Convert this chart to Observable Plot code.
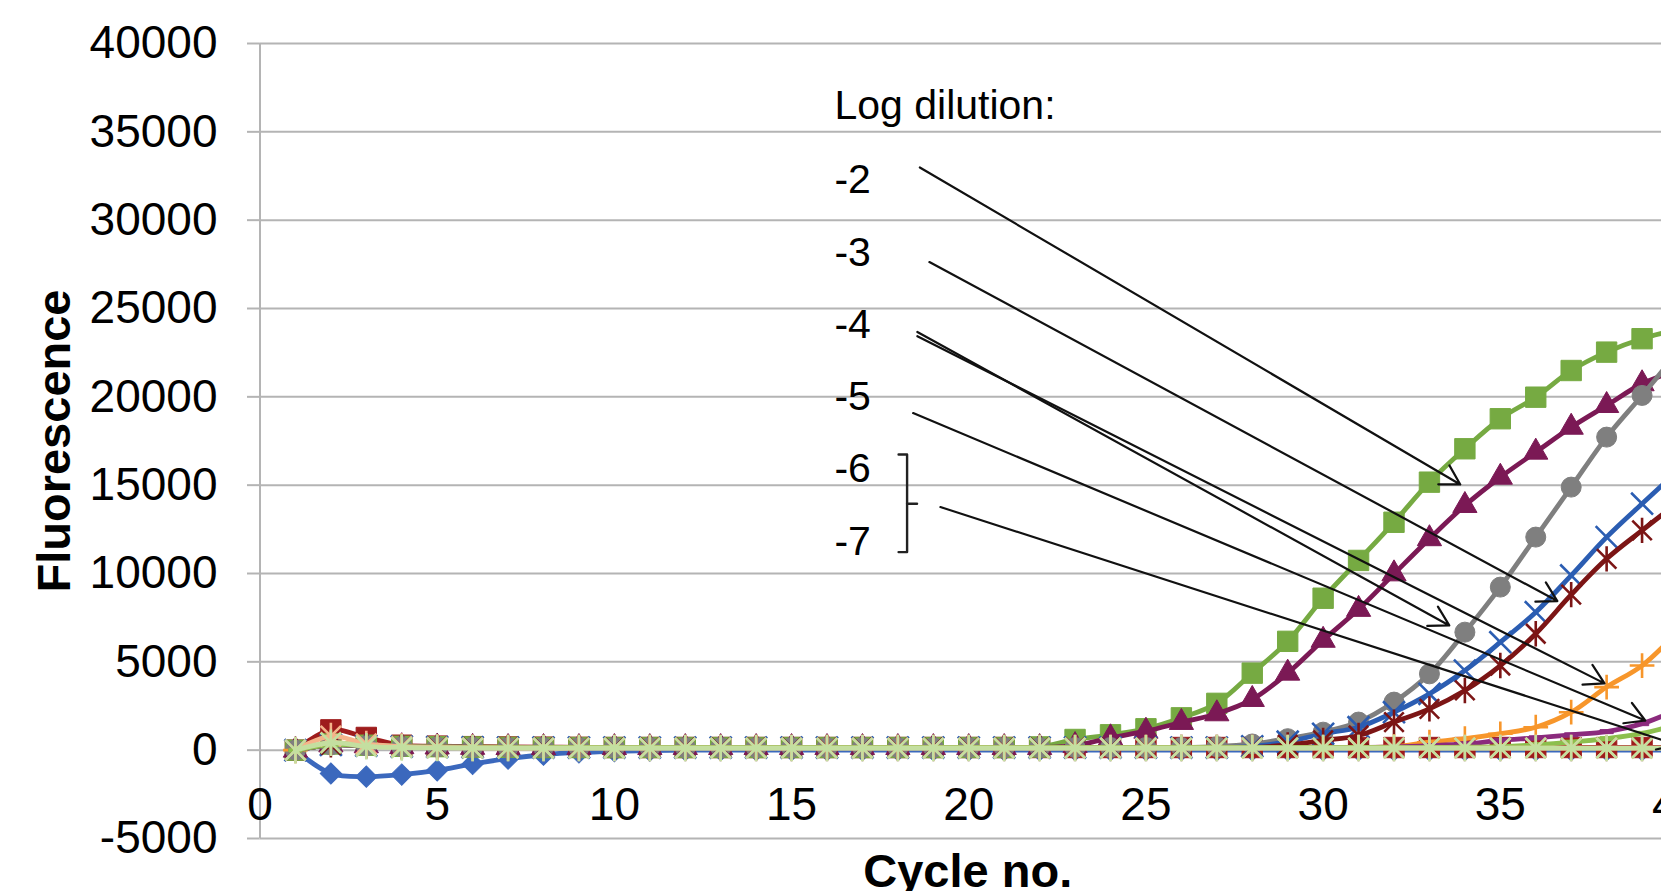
<!DOCTYPE html>
<html>
<head>
<meta charset="utf-8">
<script src="https://cdn.jsdelivr.net/npm/d3@7"></script>
<script src="https://cdn.jsdelivr.net/npm/@observablehq/plot@0.6"></script>
<style>
  html, body { margin: 0; padding: 0; background: #fff; overflow: hidden; }
  #chart svg { display: block; overflow: hidden; }
</style>
</head>
<body>
<div id="chart"></div>
<script>
// ---------- data ----------
const cycles = d3.range(1, 41);

const xTicks = [0, 5, 10, 15, 20, 25, 30, 35, 40];
const yTicks = [-5000, 0, 5000, 10000, 15000, 20000, 25000, 30000, 35000, 40000];

const blueDiamond = [
  0, -1320, -1500, -1380, -1140, -780, -480, -260, -130, -60,
  -20, 0, 0, 0, 0, 0, 0, 0, 0, 0,
  0, 0, 0, 0, 0, 0, 0, 0, 0, 0,
  0, 0, 0, 0, 0, 0, 0, 0, 0, 0];
const redSquare = [
  0, 1150, 720, 280, 230, 200, 180, 170, 160, 150,
  150, 150, 150, 150, 150, 150, 150, 150, 150, 150,
  150, 150, 150, 150, 150, 150, 150, 150, 150, 150,
  150, 150, 150, 150, 150, 150, 150, 150, 150, 150];
const greenSquare = [
  0, 350, 280, 220, 200, 180, 160, 150, 150, 150,
  150, 150, 150, 150, 150, 150, 150, 150, 150, 150,
  150, 180, 605, 870, 1210, 1830, 2650, 4360, 6160, 8600,
  10740, 12900, 15170, 17060, 18760, 19980, 21490, 22530, 23290, 23800];
const maroonTriangle = [
  0, 300, 250, 200, 180, 160, 150, 150, 150, 150,
  150, 150, 150, 150, 150, 150, 150, 150, 150, 150,
  150, 150, 260, 700, 1075, 1570, 2060, 2870, 4360, 6220,
  7970, 9980, 11970, 13850, 15450, 16870, 18280, 19510, 20740, 21500];
const grayCircle = [
  0, 300, 250, 200, 180, 160, 150, 150, 150, 150,
  150, 150, 150, 150, 150, 150, 150, 150, 150, 150,
  150, 150, 150, 150, 150, 150, 200, 350, 650, 1020,
  1590, 2720, 4320, 6680, 9230, 12060, 14890, 17720, 20080, 22500];
const blueCross = [
  0, 300, 250, 200, 180, 160, 150, 150, 150, 150,
  150, 150, 150, 150, 150, 150, 150, 150, 150, 150,
  150, 150, 150, 150, 150, 150, 150, 220, 480, 930,
  1300, 2150, 3190, 4510, 6110, 7810, 9890, 12060, 13950, 15800];
const redStar = [
  0, 300, 250, 200, 180, 160, 150, 150, 150, 150,
  150, 150, 150, 150, 150, 150, 150, 150, 150, 150,
  150, 150, 150, 150, 150, 150, 150, 150, 300, 550,
  830, 1590, 2340, 3380, 4790, 6590, 8800, 10830, 12440, 14000];
const orangePlus = [
  0, 400, 250, 200, 180, 160, 150, 150, 150, 150,
  150, 150, 150, 150, 150, 150, 150, 150, 150, 150,
  150, 150, 150, 150, 150, 150, 150, 150, 150, 150,
  150, 200, 450, 650, 930, 1300, 2150, 3570, 4790, 6700];
const purpleDash = [
  0, 300, 250, 200, 180, 160, 150, 150, 150, 150,
  150, 150, 150, 150, 150, 150, 150, 150, 150, 150,
  150, 150, 150, 150, 150, 150, 150, 150, 150, 150,
  150, 180, 250, 350, 550, 700, 870, 1050, 1500, 2300];
const greenDash = [
  0, 300, 250, 200, 180, 160, 150, 150, 150, 150,
  150, 150, 150, 150, 150, 150, 150, 150, 150, 150,
  150, 150, 150, 150, 150, 150, 150, 150, 150, 150,
  150, 150, 150, 170, 200, 300, 450, 650, 950, 1450];
const peachStar = [
  0, 800, 350, 200, 150, 130, 120, 120, 120, 120,
  120, 120, 120, 120, 120, 120, 120, 120, 120, 120,
  120, 120, 120, 120, 120, 120, 120, 120, 120, 120,
  120, 120, 120, 120, 120, 120, 120, 120, 120, 120];
const lightGreenStar = [
  0, 420, 220, 150, 130, 120, 120, 120, 120, 120,
  120, 120, 120, 120, 120, 120, 120, 120, 120, 120,
  120, 120, 120, 120, 120, 120, 120, 120, 120, 120,
  120, 120, 120, 120, 120, 120, 120, 120, 120, 120];

// annotation text ("Log dilution:" legend), in data units
const dilutionLabels = ["Log dilution:", "-2", "-3", "-4", "-5", "-6", "-7"];
const dilutionLabelY = [36490, 32300, 28160, 24090, 20010, 15930, 11800];
const dilutionLabelX = 16.21;

// arrows from labels to curves, in data units
const arrowX1 = [18.62, 18.89, 18.55, 18.55, 18.43, 19.20];
const arrowY1 = [32980, 27630, 23670, 23430, 19080, 13760];
const arrowX2 = [33.87, 36.61, 33.56, 37.94, 39.09, 40.0];
const arrowY2 = [15040, 8440, 7060, 3780, 1680, 300];

// bracket grouping -6 and -7
const bracketX = [18.02, 18.26, 18.26, 18.02];
const bracketY = [16740, 16740, 11210, 11210];
const bracketTickX = [18.26, 18.54];
const bracketTickY = [13950, 13950];

// ---------- styling ----------
const excelStar = {
  draw(context, size) {
    const r = Math.sqrt(size) * 0.55;
    context.moveTo(-r, -r); context.lineTo(r, r);
    context.moveTo(-r, r); context.lineTo(r, -r);
    context.moveTo(0, -r * 1.3); context.lineTo(0, r * 1.3);
  }
};
const dashMarker = {
  draw(context, size) {
    const w = Math.sqrt(size) * 0.75, h = w * 0.3;
    context.rect(-w, -h, 2 * w, 2 * h);
  }
};

const series = [
  {values: blueDiamond,    color: "#3b68bd", symbol: "square",  rotate: 45, r: 8.5,  filled: true},
  {values: redSquare,      color: "#9e1c1c", symbol: "square",  rotate: 0,  r: 11.5, filled: true},
  {values: greenSquare,    color: "#76aa42", symbol: "square",  rotate: 0,  r: 11.5, filled: true},
  {values: maroonTriangle, color: "#7b1955", symbol: "triangle",rotate: 0,  r: 9,    filled: true},
  {values: grayCircle,     color: "#7f7f7f", symbol: "circle",  rotate: 0,  r: 10,   filled: true},
  {values: blueCross,      color: "#2b5db2", symbol: "times",   rotate: 0,  r: 10,   filled: false},
  {values: redStar,        color: "#7c1515", symbol: excelStar, rotate: 0,  r: 10,   filled: false},
  {values: orangePlus,     color: "#f7962b", symbol: "plus",    rotate: 0,  r: 8,    filled: false},
  {values: purpleDash,     color: "#8b2a7d", symbol: dashMarker,rotate: 0,  r: 5,    filled: true},
  {values: greenDash,      color: "#8cbf4d", symbol: dashMarker,rotate: 0,  r: 5,    filled: true},
  {values: peachStar,      color: "#f5b48a", symbol: excelStar, rotate: 0,  r: 10.5, filled: false},
  {values: lightGreenStar, color: "#c4dfa0", symbol: excelStar, rotate: 0,  r: 10.5, filled: false}
];

const gridColor = "#b4b4b4";
const font = "'Liberation Sans', Arial, Helvetica, sans-serif";

const seriesMarks = series.flatMap(s => {
  const rows = s.values.map((v, i) => ({cycle: cycles[i], value: v}));
  return [
    Plot.line(rows, {x: "cycle", y: "value", stroke: s.color, strokeWidth: 4.8,
                     curve: "catmull-rom", clip: true}),
    Plot.dot(rows, {x: "cycle", y: "value", symbol: s.symbol, r: s.r, rotate: s.rotate,
                    fill: s.filled ? s.color : "none", stroke: s.color,
                    strokeWidth: s.filled ? 1 : 2.6, clip: true})
  ];
});

const idx = (n) => d3.range(n);

const chart = Plot.plot({
  width: 1661,
  height: 891,
  marginLeft: 259.5,
  marginRight: 0,
  marginTop: 43,
  marginBottom: 53,
  style: {fontFamily: font, background: "white", color: "black", overflow: "hidden"},
  x: {domain: [0, 40], range: [259.5, 1677], label: null},
  y: {domain: [-5000, 40000], label: null},
  marks: [
    Plot.ruleY(yTicks, {stroke: gridColor, strokeWidth: 2}),
    Plot.ruleX([0], {y1: -5000, y2: 40000, stroke: gridColor, strokeWidth: 2}),
    Plot.axisY(yTicks, {anchor: "left", tickSize: 12.5, tickPadding: 30, stroke: gridColor,
                        strokeWidth: 2, fill: "black", fontSize: 46, label: null,
                        tickFormat: d => String(d)}),
    ...seriesMarks,
    Plot.axisX(xTicks, {anchor: "bottom", tickSize: 0, tickPadding: 0, dy: -51,
                        fill: "black", fontSize: 46, label: null, tickFormat: d => String(d)}),
    Plot.text(["Fluorescence"], {frameAnchor: "left", textAnchor: "middle", lineAnchor: "middle",
                                 dx: -205, rotate: -90, fontSize: 47,
                                 fontWeight: "bold", fill: "black"}),
    Plot.text(["Cycle no."], {frameAnchor: "bottom", lineAnchor: "middle", dx: 7, dy: 33,
                              fontSize: 47, fontWeight: "bold", fill: "black"}),
    Plot.text(idx(dilutionLabels.length), {x: () => dilutionLabelX, y: i => dilutionLabelY[i],
              text: i => dilutionLabels[i], textAnchor: "start", lineAnchor: "middle",
              fontSize: 41, fill: "black"}),
    Plot.line(idx(bracketX.length), {x: i => bracketX[i], y: i => bracketY[i],
              stroke: "#222", strokeWidth: 2.4, curve: "linear"}),
    Plot.line(idx(bracketTickX.length), {x: i => bracketTickX[i], y: i => bracketTickY[i],
              stroke: "#222", strokeWidth: 2.4}),
    Plot.arrow(idx(arrowX1.length), {x1: i => arrowX1[i], y1: i => arrowY1[i],
               x2: i => arrowX2[i], y2: i => arrowY2[i], stroke: "#111", strokeWidth: 2.2,
               headLength: 15, headAngle: 60, clip: true})
  ]
});

document.getElementById("chart").appendChild(chart);
</script>
</body>
</html>
